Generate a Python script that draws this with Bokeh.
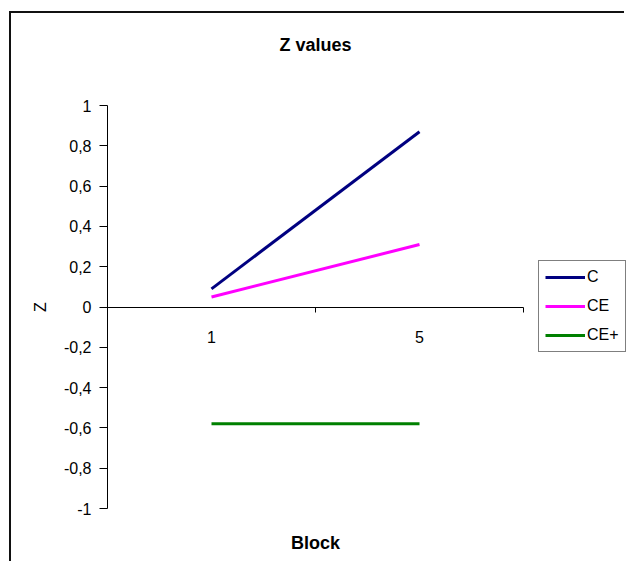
from bokeh.plotting import figure
from bokeh.models import (Range1d, LinearAxis, FixedTicker, CustomJSTickFormatter,
                          Legend, LegendItem, Spacer)
from bokeh.layouts import column, row
from bokeh.embed import file_html
from bokeh.resources import INLINE

# ---- data ----
blocks = ["1", "5"]
series_names = ["C", "CE", "CE+"]
c_z = [0.09, 0.87]
ce_z = [0.05, 0.31]
ceplus_z = [-0.58, -0.58]
series_colors = ["#000080", "#FF00FF", "#008000"]
y_tick_values = [-1.0, -0.8, -0.6, -0.4, -0.2, 0.0, 0.2, 0.4, 0.6, 0.8, 1.0]
chart_title = "Z values"
x_title = "Block"
y_title = "Z"

FONT = "Liberation Sans"

# ---- layout sizes (px) ----
W, H = 615, 550
LEFT, TOP, BOTTOM = 96, 92, 55
AXIS_W = 416                      # width of the category axis
FRAME_W = W - LEFT                # plot area reaches to the right edge (legend lives there)

n = len(blocks)
x_pos = [i + 0.5 for i in range(n)]
boundaries = [float(i + 1) for i in range(n)]
x_mid = n / 2
x_end = n * FRAME_W / AXIS_W

p = figure(width=W, height=H, output_backend="svg", toolbar_location=None,
           x_range=Range1d(0, x_end), y_range=Range1d(-1, 1),
           x_axis_type=None, y_axis_type=None,
           min_border_left=LEFT, min_border_right=0,
           min_border_top=TOP, min_border_bottom=BOTTOM,
           background_fill_color="white", border_fill_color="white")
p.outline_line_color = None
p.styles = {"border-top": "2px solid #111", "border-left": "2px solid #111"}


def text_axis(txt, standoff, size, style):
    """Hidden axis whose single label (centred over the category axis) carries a text."""
    return LinearAxis(
        ticker=FixedTicker(ticks=[x_mid]), bounds=(0, n),
        formatter=CustomJSTickFormatter(args=dict(t=txt), code="return t;"),
        axis_line_color=None, major_tick_line_color=None, minor_tick_line_color=None,
        major_tick_in=0, major_tick_out=0, major_label_standoff=standoff,
        major_label_text_font=FONT, major_label_text_font_size=size,
        major_label_text_font_style=style, major_label_text_color="black")


# chart title above the plot area
p.add_layout(text_axis(chart_title, 51, "18px", "bold"), "above")

# y axis
yaxis = LinearAxis(
    ticker=FixedTicker(ticks=y_tick_values),
    formatter=CustomJSTickFormatter(code="return (Math.round(tick*10)/10).toString().replace('.', ',');"),
    axis_label=y_title, axis_label_standoff=12,
    axis_label_text_font=FONT, axis_label_text_font_size="16px",
    axis_label_text_font_style="normal", axis_label_text_color="black",
    major_label_text_font=FONT, major_label_text_font_size="16px",
    major_label_text_color="black", major_label_standoff=8,
    major_tick_in=0, major_tick_out=8, minor_tick_line_color=None,
    axis_line_color="black", major_tick_line_color="black")
p.add_layout(yaxis, "left")

# x axis line at zero with ticks between categories
xaxis_ticks = LinearAxis(
    ticker=FixedTicker(ticks=boundaries), fixed_location=0, bounds=(0, n),
    formatter=CustomJSTickFormatter(code="return '';"),
    major_tick_in=0, major_tick_out=5, minor_tick_line_color=None,
    axis_line_color="black", major_tick_line_color="black")
p.add_layout(xaxis_ticks, "below")

# category labels
xaxis_labels = LinearAxis(
    ticker=FixedTicker(ticks=x_pos), fixed_location=0, bounds=(0, n),
    formatter=CustomJSTickFormatter(args=dict(labels=blocks),
                                    code="return labels[Math.floor(tick)];"),
    axis_line_color=None, major_tick_line_color=None, minor_tick_line_color=None,
    major_tick_in=0, major_tick_out=0, major_label_standoff=24,
    major_label_text_font=FONT, major_label_text_font_size="16px",
    major_label_text_color="black")
p.add_layout(xaxis_labels, "below")

# x axis title "Block" below the plot area
p.add_layout(text_axis(x_title, 24, "18px", "bold"), "below")

# series
renderers = []
for vals, col in zip([c_z, ce_z, ceplus_z], series_colors):
    r = p.line(x_pos, vals, line_color=col, line_width=3)
    renderers.append(r)

legend = Legend(
    items=[LegendItem(label=nm, renderers=[r]) for nm, r in zip(series_names, renderers)],
    location=(AXIS_W + 15, 156), orientation="vertical",
    border_line_color="black", border_line_width=1, background_fill_color="white",
    background_fill_alpha=1.0, padding=6, spacing=9, margin=0,
    glyph_width=40, glyph_height=20, label_standoff=2, label_height=20,
    label_text_font=FONT, label_text_font_size="16px", label_text_color="black")
p.add_layout(legend, "center")

root = column(Spacer(width=10, height=11), row(Spacer(width=9, height=10), p))

open("out.html", "w").write(file_html(root, INLINE))
